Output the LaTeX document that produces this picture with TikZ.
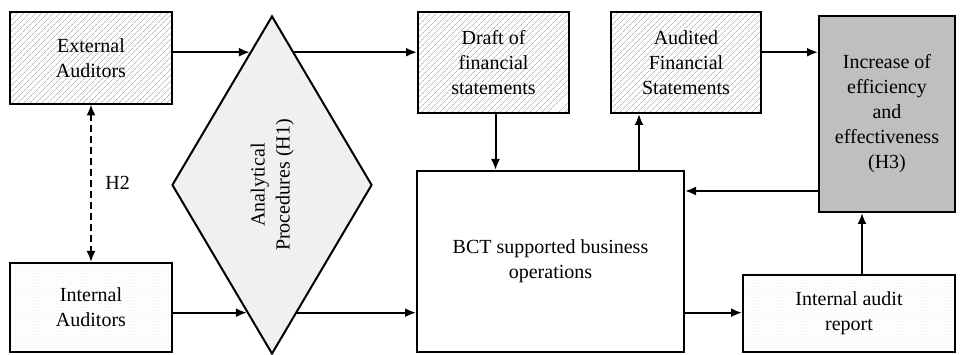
\documentclass[tikz,border=0pt]{standalone}
\usepackage{fontspec}
\setmainfont{Liberation Serif}
\usepackage{graphicx}
\usetikzlibrary{calc,shapes.geometric,patterns.meta,arrows.meta}

\tikzset{
  box/.style={draw,line width=2pt,align=center,inner sep=0pt},
  hatchbox/.style={box,pattern={Lines[angle=45,distance=4pt,line width=0.8pt]},pattern color=gray!55},
  dotbox/.style={box,pattern={Dots[distance=3pt,radius=0.45pt]},pattern color=gray!60},
  arr/.style={->,line width=2pt}
}

\begin{document}
\begin{tikzpicture}[x=1pt,y=1pt,>={Latex[length=11pt,width=9pt]},
    every node/.style={font=\fontsize{20}{25}\selectfont}]
  \useasboundingbox (0,0) rectangle (962,355);
  % auditors on the left
  \node[hatchbox,minimum width=162pt,minimum height=92pt] (ext) at (91,297) {External\\Auditors};
  \node[dotbox,minimum width=162pt,minimum height=89pt] (int) at (91,47.5) {Internal\\Auditors};
  \node[diamond,draw,line width=2pt,fill=gray!12,aspect=0.8,inner sep=0pt,
        minimum width=200pt,minimum height=338pt] (dia) at (272,170)
        {\rotatebox{90}{\begin{tabular}{@{}c@{}}Analytical\\Procedures (H1)\end{tabular}}};
  % statements and operations
  \node[hatchbox,minimum width=151pt,minimum height=101pt] (draft) at (493.5,292.5) {Draft of\\financial\\statements};
  \node[hatchbox,minimum width=150pt,minimum height=101pt] (audit) at (686,292.5) {Audited\\Financial\\Statements};
  \node[box,fill=gray!50,minimum width=136pt,minimum height=196pt] (incr) at (887,241) {Increase of\\efficiency\\and\\effectiveness\\(H3)};
  \node[box,minimum width=267pt,minimum height=181pt] (bct) at (550.5,93.5) {BCT supported business\\operations};
  \node[dotbox,minimum width=212pt,minimum height=77pt] (rep) at (849,41.5) {Internal audit\\report};
  % points on the diamond
  \coordinate (dnw) at ($(dia.north)!0.219!(dia.west)$);
  \coordinate (dne) at ($(dia.north)!0.219!(dia.east)$);
  \coordinate (dsw) at ($(dia.south)!0.249!(dia.west)$);
  \coordinate (dse) at ($(dia.south)!0.249!(dia.east)$);
  % connectors
  \draw[arr] (ext.east |- dnw) -- (dnw);
  \draw[arr] (dne) -- (draft.west |- dne);
  \draw[arr] (int.east |- dsw) -- (dsw);
  \draw[arr] (dse) -- (bct.west |- dse);
  \draw[arr,<->,dash pattern=on 7pt off 4pt] (ext.south) -- (int.north) node[midway,right=10pt]{H2};
  \draw[arr] ([xshift=2pt]draft.south) -- ([xshift=2pt]draft.south |- bct.north);
  \draw[arr] ([xshift=-47pt]audit.south |- bct.north) -- ([xshift=-47pt]audit.south);
  \draw[arr] (audit.east |- dnw) -- (incr.west |- dnw);
  \draw[arr] ([yshift=-77pt]incr.west) -- ([yshift=-77pt]incr.west -| bct.east);
  \draw[arr] (bct.east |- dsw) -- (rep.west |- dsw);
  \draw[arr] ([xshift=13pt]rep.north) -- ([xshift=13pt]rep.north |- incr.south);
\end{tikzpicture}
\end{document}
